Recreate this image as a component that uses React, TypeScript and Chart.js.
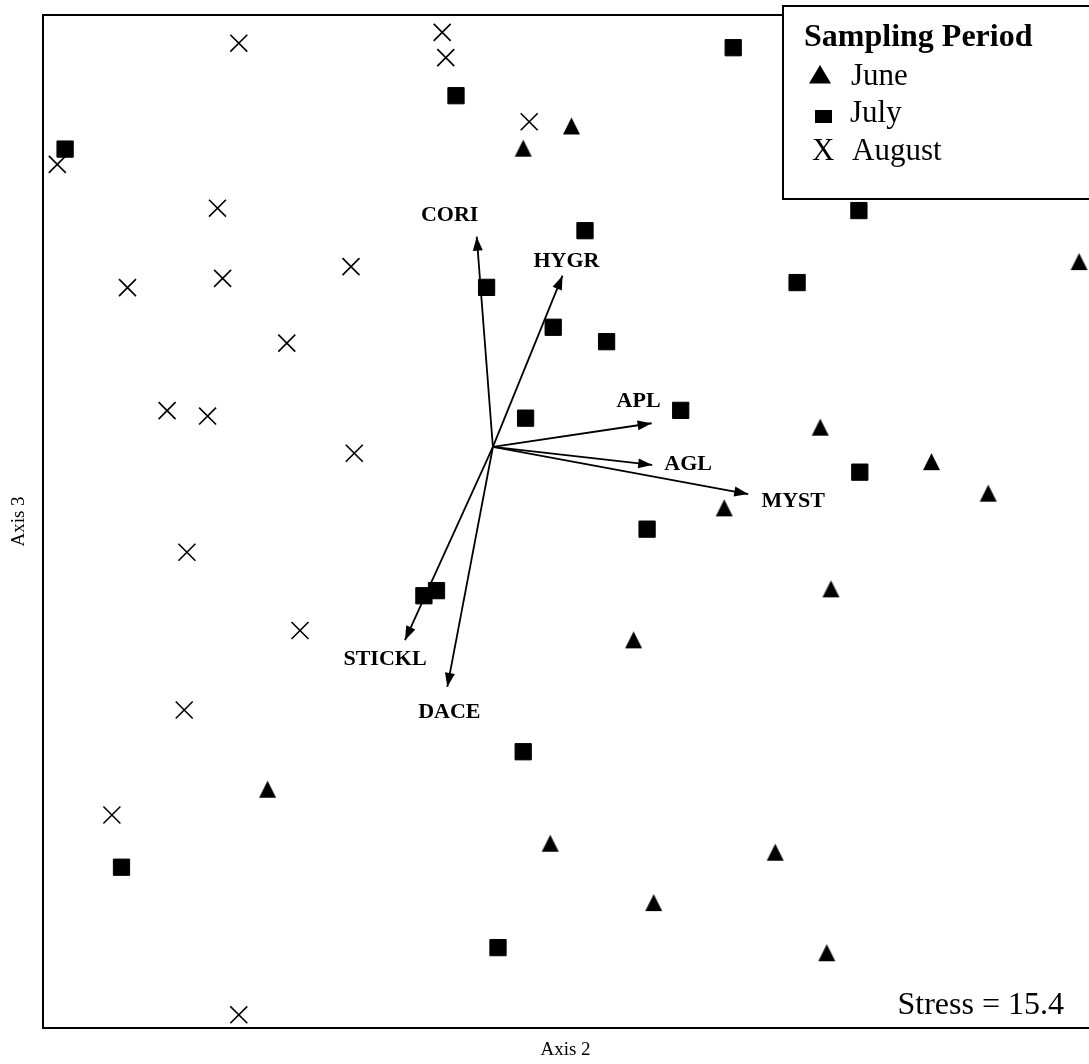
import React, { useEffect, useRef } from "react";
import { Chart, registerables } from "chart.js";

Chart.register(...registerables);

const FONT = "'Liberation Serif', 'Times New Roman', Times, serif";

// ---- data (NMDS scores) ----
const seriesNames = ["June", "July", "August"];

const juneX = [0.262, 0.101, 1.954, 1.091, 1.462, 1.651, 0.771, 1.127, 0.469, -0.751, 0.191, 0.941, 0.536, 1.113];
const juneY = [1.07, 0.996, 0.618, 0.066, -0.049, -0.154, -0.203, -0.473, -0.643, -1.141, -1.321, -1.351, -1.519, -1.686];

const julyX = [-1.426, -0.123, 0.801, 1.22, 0.307, -0.021, 1.014, 0.201, 0.379, 0.626, 0.109, 1.223, 0.514, -0.23, -0.188, 0.101, -1.238, 0.017];
const julyY = [0.993, 1.171, 1.331, 0.788, 0.721, 0.532, 0.548, 0.399, 0.351, 0.122, 0.096, -0.084, -0.274, -0.496, -0.479, -1.016, -1.401, -1.669];

const augustX = [-0.847, -0.169, -0.157, 0.121, -1.452, -0.918, -0.473, -1.218, -0.901, -0.687, -1.086, -0.951, -0.462, -1.02, -0.643, -1.029, -1.27, -0.847];
const augustY = [1.346, 1.382, 1.298, 1.084, 0.942, 0.796, 0.601, 0.531, 0.562, 0.346, 0.121, 0.103, -0.021, -0.351, -0.612, -0.877, -1.227, -1.893];

const vectorNames = ["CORI", "HYGR", "APL", "AGL", "MYST", "STICKL", "DACE"];
const vectorX = [-0.054, 0.232, 0.529, 0.531, 0.851, -0.293, -0.152];
const vectorY = [0.701, 0.571, 0.079, -0.06, -0.157, -0.644, -0.8];

const xRange = [-1.503, 1.987];
const yRange = [-1.937, 1.44];

const xTitle = "Axis 2";
const yTitle = "Axis 3";
const legendTitle = "Sampling Period";
const stressText = "Stress = 15.4";

// ---- styles ----
const labelOffsets: [number, number][] = [
  [-27, -23],
  [4, -16],
  [-13, -23],
  [36, -2],
  [45, 6],
  [-20, 18],
  [2, 24],
];

function pts(xs: number[], ys: number[]) {
  return xs.map((x, i) => ({ x, y: ys[i] }));
}

function makeTriangle(w: number, h: number) {
  const c = document.createElement("canvas");
  c.width = w + 2;
  c.height = h + 2;
  const g = c.getContext("2d")!;
  g.fillStyle = "#000";
  g.beginPath();
  g.moveTo(c.width / 2, 1);
  g.lineTo(c.width - 1, c.height - 1);
  g.lineTo(1, c.height - 1);
  g.closePath();
  g.fill();
  return c;
}

const overlayPlugin = {
  id: "overlay",
  afterDatasetsDraw(chart: any) {
    const { ctx, scales } = chart;
    const xs = scales.x;
    const ys = scales.y;
    const ox = xs.getPixelForValue(0);
    const oy = ys.getPixelForValue(0);
    const L = 14;
    const W = 5;
    ctx.save();
    ctx.fillStyle = "#000";
    vectorNames.forEach((name, i) => {
      const tx = xs.getPixelForValue(vectorX[i]);
      const ty = ys.getPixelForValue(vectorY[i]);
      const a = Math.atan2(ty - oy, tx - ox);
      const bx = tx - L * Math.cos(a);
      const by = ty - L * Math.sin(a);
      ctx.beginPath();
      ctx.moveTo(tx, ty);
      ctx.lineTo(bx + W * Math.sin(a), by - W * Math.cos(a));
      ctx.lineTo(bx - W * Math.sin(a), by + W * Math.cos(a));
      ctx.closePath();
      ctx.fill();
      ctx.font = `bold 22px ${FONT}`;
      ctx.textAlign = "center";
      ctx.textBaseline = "alphabetic";
      ctx.fillText(name, tx + labelOffsets[i][0], ty + labelOffsets[i][1] + 7);
    });
    ctx.restore();
  },
  afterDraw(chart: any) {
    const { ctx, chartArea } = chart;
    const { left, top, right, bottom } = chartArea;
    ctx.save();
    // frame (top, left, bottom)
    ctx.strokeStyle = "#000";
    ctx.lineWidth = 2;
    ctx.beginPath();
    ctx.moveTo(right + 2, top);
    ctx.lineTo(left + 1, top);
    ctx.lineTo(left + 1, bottom);
    ctx.lineTo(right + 2, bottom);
    ctx.stroke();

    // legend box
    ctx.fillStyle = "#fff";
    ctx.fillRect(783, 6, 320, 193);
    ctx.strokeRect(783, 6, 320, 193);
    ctx.fillStyle = "#000";
    ctx.textAlign = "left";
    ctx.textBaseline = "alphabetic";
    ctx.font = `bold 32px ${FONT}`;
    ctx.fillText(legendTitle, 804, 46);
    ctx.font = `31px ${FONT}`;
    // June: triangle
    ctx.beginPath();
    ctx.moveTo(820, 65);
    ctx.lineTo(831, 83.5);
    ctx.lineTo(809, 83.5);
    ctx.closePath();
    ctx.fill();
    ctx.fillText(seriesNames[0], 851, 85);
    // July: square
    ctx.fillRect(815, 110, 17, 13);
    ctx.fillText(seriesNames[1], 850, 122);
    // August: X glyph
    ctx.fillText("X", 812, 160);
    ctx.fillText(seriesNames[2], 852, 160);

    // stress
    ctx.font = `32px ${FONT}`;
    ctx.textAlign = "right";
    ctx.fillText(stressText, 1064, 1014);
    ctx.restore();
  },
};

export default function App() {
  const canvasRef = useRef<HTMLCanvasElement | null>(null);

  useEffect(() => {
    const canvas = canvasRef.current;
    if (!canvas) return;
    const tri = makeTriangle(17, 17);

    const vectorSets = vectorNames.map((name, i) => ({
      label: name,
      data: [
        { x: 0, y: 0 },
        { x: vectorX[i], y: vectorY[i] },
      ],
      showLine: true,
      borderColor: "#000",
      borderWidth: 1.8,
      pointRadius: 0,
      fill: false,
      order: 2,
    }));

    const chart = new Chart(canvas, {
      type: "scatter",
      data: {
        datasets: [
          {
            label: seriesNames[0],
            data: pts(juneX, juneY),
            pointStyle: tri as any,
            pointRadius: 9,
            backgroundColor: "#000",
            borderColor: "#000",
            order: 1,
          },
          {
            label: seriesNames[1],
            data: pts(julyX, julyY),
            pointStyle: "rect",
            pointRadius: 11.5,
            backgroundColor: "#000",
            borderColor: "#000",
            borderWidth: 1,
            order: 1,
          },
          {
            label: seriesNames[2],
            data: pts(augustX, augustY),
            pointStyle: "crossRot",
            pointRadius: 12,
            backgroundColor: "#000",
            borderColor: "#000",
            borderWidth: 1.6,
            order: 1,
          },
          ...vectorSets,
        ] as any,
      },
      options: {
        responsive: false,
        animation: false,
        events: [],
        devicePixelRatio: 1,
        layout: { autoPadding: false, padding: { left: 0, top: 15, right: 0, bottom: 0 } },
        plugins: {
          legend: { display: false },
          tooltip: { enabled: false },
        },
        scales: {
          x: {
            type: "linear",
            min: xRange[0],
            max: xRange[1],
            grid: { display: false, drawTicks: false },
            border: { display: false },
            ticks: { display: false },
            title: {
              display: true,
              text: xTitle,
              color: "#000",
              font: { family: FONT, size: 19 },
              padding: { top: 0, bottom: 3 },
            },
            afterFit: (s: any) => {
              s.height = 36;
            },
          },
          y: {
            type: "linear",
            min: yRange[0],
            max: yRange[1],
            grid: { display: false, drawTicks: false },
            border: { display: false },
            ticks: { display: false },
            title: {
              display: true,
              text: yTitle,
              color: "#000",
              font: { family: FONT, size: 19 },
              padding: { top: 8, bottom: 0 },
            },
            afterFit: (s: any) => {
              s.width = 42;
            },
          },
        },
      } as any,
      plugins: [overlayPlugin],
    });

    return () => chart.destroy();
  }, []);

  return (
    <div style={{ position: "absolute", left: 0, top: 0, width: 1089, height: 1064, background: "#fff" }}>
      <canvas ref={canvasRef} width={1089} height={1064} style={{ display: "block" }} />
    </div>
  );
}
